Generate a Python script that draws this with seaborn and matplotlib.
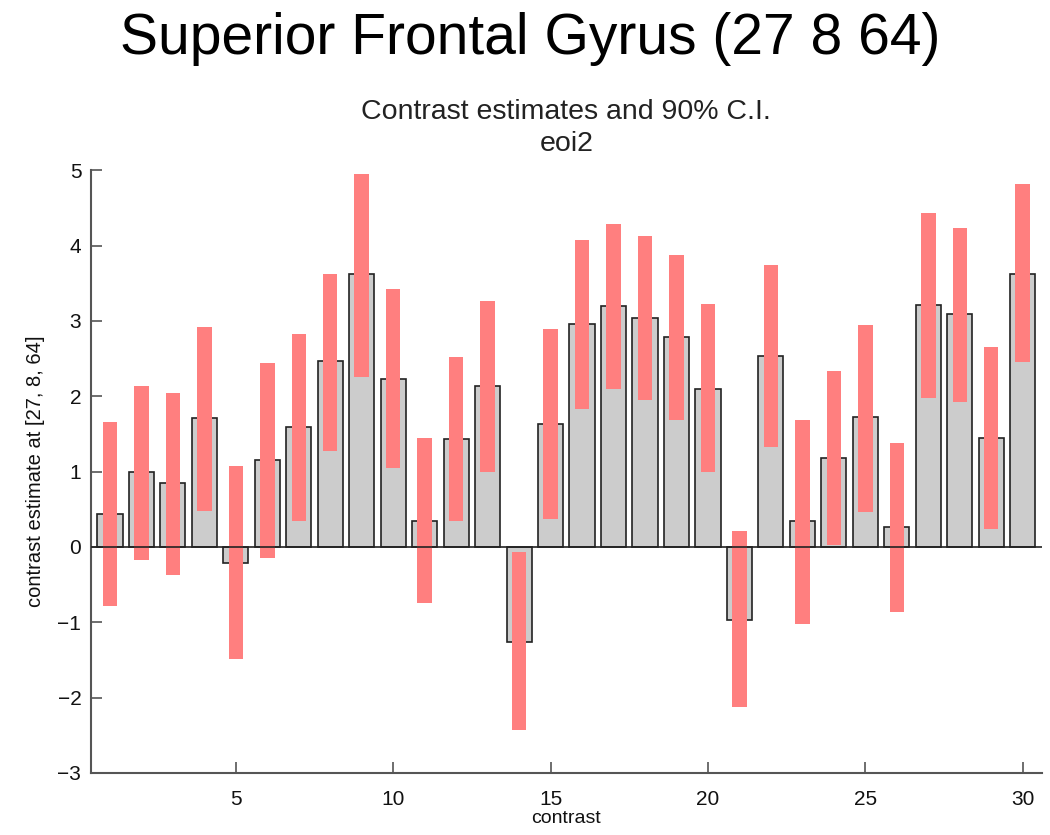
import matplotlib
matplotlib.use("Agg")
import matplotlib.pyplot as plt
import seaborn as sns
import numpy as np
import pandas as pd

# Contrast estimates at voxel [27, 8, 64] with 90% confidence bounds
contrast = list(range(1, 31))
estimate = [0.44, 1.00, 0.85, 1.71, -0.21, 1.15, 1.59, 2.47, 3.62, 2.23,
            0.35, 1.44, 2.14, -1.26, 1.63, 2.96, 3.20, 3.04, 2.79, 2.10,
            -0.97, 2.53, 0.34, 1.18, 1.72, 0.27, 3.21, 3.09, 1.45, 3.63]
ci_low = [-0.79, -0.17, -0.37, 0.48, -1.49, -0.15, 0.35, 1.28, 2.26, 1.05,
          -0.74, 0.34, 1.00, -2.43, 0.37, 1.83, 2.10, 1.95, 1.69, 0.99,
          -2.13, 1.33, -1.02, 0.02, 0.47, -0.86, 1.98, 1.93, 0.24, 2.45]
ci_high = [1.66, 2.14, 2.05, 2.92, 1.07, 2.44, 2.83, 3.62, 4.95, 3.43,
           1.45, 2.52, 3.26, -0.07, 2.89, 4.08, 4.29, 4.13, 3.87, 3.22,
           0.21, 3.74, 1.68, 2.33, 2.95, 1.38, 4.44, 4.23, 2.65, 4.82]
y_ticks = [-3, -2, -1, 0, 1, 2, 3, 4, 5]
x_ticks = [5, 10, 15, 20, 25, 30]

df = pd.DataFrame({"contrast": contrast, "estimate": estimate,
                   "low": ci_low, "high": ci_high})

sns.set_style("white")
plt.rcParams["font.family"] = ["Liberation Sans", "DejaVu Sans"]
plt.rcParams["text.color"] = "black"

fig = plt.figure(figsize=(10.5, 8.35), dpi=100)
ax = fig.add_axes([0.0867, 0.0743, 0.9053, 0.7217])

sns.barplot(data=df, x="contrast", y="estimate", native_scale=True,
            color="#cccccc", saturation=1, edgecolor="#222222",
            linewidth=1.2, errorbar=None, width=0.8, ax=ax, zorder=2)

# confidence interval bars drawn on top of the estimates
ax.bar(df["contrast"], df["high"] - df["low"], bottom=df["low"],
       width=0.46, color="#ff7f7f", linewidth=0, zorder=3)

ax.axhline(0, color="#222222", lw=1.2, zorder=4)

ax.set_xlim(0.4, 30.6)
ax.set_ylim(-3, 5)
ax.set_xticks(x_ticks)
ax.set_yticks(y_ticks)
ax.set_yticklabels([str(t).replace("-", "\u2212") for t in y_ticks])

for side in ("top", "right"):
    ax.spines[side].set_visible(False)
for side in ("left", "bottom"):
    ax.spines[side].set_color("#555555")
    ax.spines[side].set_linewidth(1.5)
ax.tick_params(axis="both", direction="in", length=8, width=1.2,
               color="#555555", labelsize=15, labelcolor="#111111")
ax.tick_params(axis="x", pad=12)
ax.tick_params(axis="y", pad=7)
ax.tick_params(axis="both", which="both", left=True, bottom=True)

ax.set_xlabel("contrast", fontsize=14, labelpad=1, color="#111111")
ax.set_ylabel("contrast estimate at [27, 8, 64]", fontsize=14.5,
              labelpad=9, color="#111111")
ax.set_title("Contrast estimates and 90% C.I.\neoi2", fontsize=20.5,
             color="#222222", pad=14, linespacing=1.3)

fig.suptitle("Superior Frontal Gyrus (27 8 64)", fontsize=41, x=0.505,
             y=0.986, va="top", color="black")

fig.savefig("out.png", dpi=100)
